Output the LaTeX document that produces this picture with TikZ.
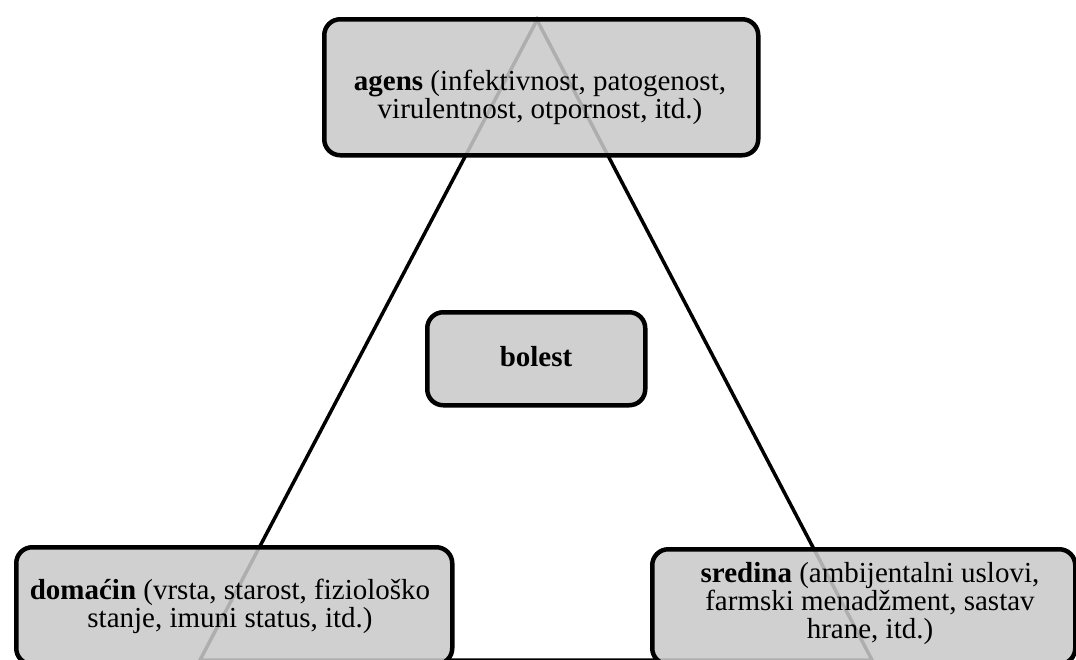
\documentclass[tikz,border=0pt]{standalone}
\usepackage{fontspec}
\setmainfont{Liberation Serif}
\begin{document}
\begin{tikzpicture}[x=1pt,y=-1pt,
	box/.style={draw, line width=4.5pt, rounded corners=16pt, fill=black!21, fill opacity=0.87, draw opacity=1, inner sep=0pt, anchor=north west},
	txt/.style={align=center, font=\fontsize{29}{28}\selectfont, inner sep=0pt}]

		\useasboundingbox (0,0) rectangle (1076,659);
		\clip (0,0) rectangle (1076,659);

		% trougao
		\coordinate (vrh) at (537,20);
		\coordinate (levo) at (200,660);
		\coordinate (desno) at (872,660);
		\draw[line width=3.5pt] (vrh)--(levo)--(desno)--cycle;

		\node[box, minimum width=434, minimum height=136] (agens) at (322,17) {};
		\node[box, minimum width=218, minimum height=93] (bolest) at (425,310) {};
		\node[box, minimum width=436, minimum height=117] (domacin) at (14,545) {};
		\node[box, minimum width=423, minimum height=115] (sredina) at (650,547) {};

		\node[txt] (agensTxt) at (540,97) {\textbf{agens} (infektivnost, patogenost,\\virulentnost, otpornost, itd.)};
		\node[txt] (bolestTxt) at (536,357) {\textbf{bolest}};
		\node[txt] (domacinTxt) at (230,606) {\textbf{domaćin} (vrsta, starost, fiziološko\\stanje, imuni status, itd.)};
		\node[txt] (sredinaTxt) at (870,604) {\textbf{sredina} (ambijentalni uslovi,\\farmski menadžment, sastav\\hrane, itd.)};

	\end{tikzpicture}
\end{document}
